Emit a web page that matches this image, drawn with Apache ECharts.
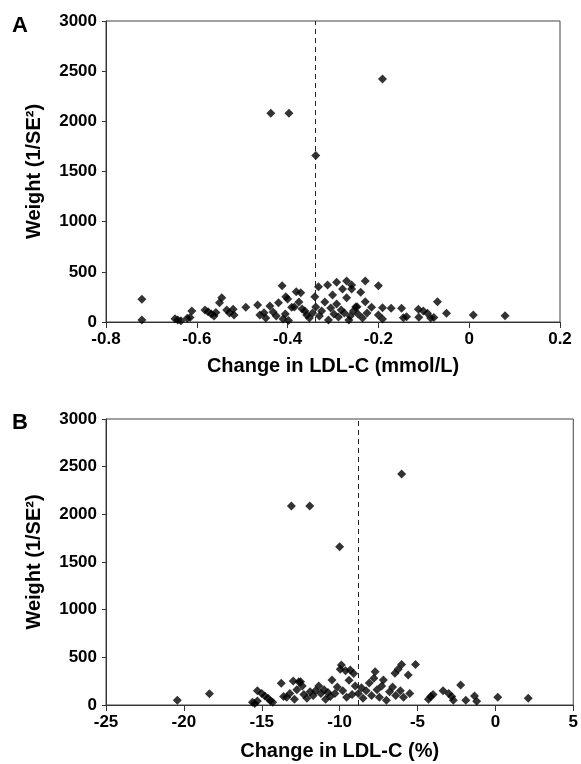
<!DOCTYPE html>
<html>
<head>
<meta charset="utf-8">
<script src="https://cdn.jsdelivr.net/npm/echarts@6/dist/echarts.min.js"></script>
<style>
  html, body { margin: 0; padding: 0; background: #fff; }
  #main { width: 581px; height: 764px; }
</style>
</head>
<body>
<div id="main"></div>
<script>
// Panel A: change in LDL-C (mmol/L) vs weight (1/SE^2)
var mmolChange = [
  -0.721, -0.721, -0.648, -0.642, -0.635, -0.621, -0.611, -0.615,
  -0.582, -0.575, -0.568, -0.562, -0.558, -0.550, -0.545, -0.534, -0.528, -0.520, -0.518,
  -0.492, -0.466, -0.461, -0.452, -0.448, -0.439, -0.432, -0.425, -0.420, -0.412, -0.404,
  -0.400, -0.410, -0.405, -0.398, -0.391, -0.381, -0.371, -0.385, -0.375, -0.368, -0.362,
  -0.358, -0.352, -0.345, -0.340, -0.338, -0.332, -0.330, -0.325, -0.318, -0.312, -0.310,
  -0.305, -0.301, -0.298, -0.292, -0.292, -0.288, -0.282, -0.279, -0.275, -0.270, -0.270,
  -0.265, -0.262, -0.259, -0.259, -0.255, -0.250, -0.247, -0.245, -0.239, -0.235, -0.229,
  -0.229, -0.225, -0.215, -0.200, -0.200, -0.191, -0.191, -0.172, -0.149, -0.145, -0.138,
  -0.112, -0.111, -0.101, -0.092, -0.085, -0.078, -0.070, -0.050, 0.009, 0.079,
  -0.437, -0.397, -0.338, -0.191
];
var mmolWeight = [
  226, 20, 33, 20, 12, 37, 110, 45,
  120, 103, 80, 60, 95, 192, 242, 120, 90, 126, 70,
  146, 169, 70, 93, 40, 159, 100, 60, 192, 362, 252,
  230, 30, 80, 15, 146, 302, 292, 150, 200, 130, 110,
  70, 40, 90, 252, 150, 352, 60, 110, 200, 369, 20,
  140, 269, 80, 396, 179, 50, 120, 329, 90, 409, 242,
  20, 60, 369, 329, 110, 150, 153, 80, 296, 40, 409,
  202, 90, 146, 362, 70, 143, 30, 136, 136, 43, 53,
  126, 47, 110, 86, 40, 45, 202, 86, 70, 63,
  2080, 2080, 1660, 2422
];
var mmolPooled = -0.336;

// Panel B: change in LDL-C (%) vs weight (1/SE^2)
var pctChange = [
  -20.42, -18.36, -15.60, -15.45, -15.28, -15.28, -15.0, -14.8, -14.6, -14.45, -14.3,
  -13.75, -13.6, -13.4, -13.2, -12.98, -12.9, -12.75, -12.62, -12.51, -12.4, -12.3,
  -12.1, -11.9, -11.7, -11.55, -11.34, -11.2, -11.0, -10.9, -10.75, -10.6, -10.49,
  -10.3, -10.15, -9.96, -9.89, -9.8, -9.62, -9.55, -9.4, -9.32, -9.2, -9.1, -9.0,
  -8.8, -8.6, -8.5, -8.3, -8.1, -7.95, -7.8, -7.72, -7.6, -7.45, -7.3, -7.19, -7.0,
  -6.8, -6.6, -6.45, -6.4, -6.24, -6.1, -6.02, -5.9, -5.6, -5.5, -5.13,
  -4.3, -4.15, -4.0, -3.36, -3.0, -2.8, -2.7, -2.23, -1.9, -1.34, -1.2, 0.15, 2.11,
  -13.1, -11.92, -10.0, -6.02
];
var pctWeight = [
  49, 119, 28, 15, 42, 150, 120, 95, 70, 45, 30,
  227, 90, 80, 120, 252, 60, 160, 245, 245, 200, 110,
  70, 140, 100, 150, 199, 120, 160, 60, 130, 90, 262,
  120, 190, 374, 420, 150, 360, 80, 260, 367, 110, 330, 200,
  120, 180, 70, 150, 230, 100, 280, 350, 160, 80, 200, 262, 50,
  140, 190, 332, 100, 374, 150, 426, 80, 315, 120, 426,
  60, 90, 110, 150, 120, 90, 50, 210, 50, 94, 40, 80, 70,
  2087, 2087, 1660, 2423
];
var pctPooled = -8.83;

var yTicks = { min: 0, max: 3000, interval: 500 };

function zip(xs, ys) {
  return xs.map(function (x, i) { return [x, ys[i]]; });
}

var font = 'Liberation Sans, Arial, sans-serif';
var axisText = { color: '#000', fontFamily: font, fontWeight: 'bold', fontSize: 17 };

function xAxisOpt(idx, min, max, interval, name, gap) {
  return {
    gridIndex: idx, type: 'value', min: min, max: max, interval: interval,
    name: name, nameLocation: 'middle', nameGap: gap,
    nameTextStyle: { color: '#000', fontFamily: font, fontWeight: 'bold', fontSize: 20 },
    axisLine: { onZero: false, lineStyle: { color: '#333', width: 1 } },
    axisTick: { show: true, length: 6, lineStyle: { color: '#333' } },
    axisLabel: Object.assign({
      margin: 9,
      formatter: function (v) { return String(Math.round(v * 10) / 10); }
    }, axisText),
    splitLine: { show: false }
  };
}

function yAxisOpt(idx) {
  return {
    gridIndex: idx, type: 'value', min: yTicks.min, max: yTicks.max, interval: yTicks.interval,
    name: 'Weight (1/SE²)', nameLocation: 'middle', nameGap: 62,
    nameTextStyle: { color: '#000', fontFamily: font, fontWeight: 'bold', fontSize: 20 },
    axisLine: { show: true, onZero: false, lineStyle: { color: '#333', width: 1 } },
    axisTick: { show: true, length: 4, lineStyle: { color: '#333' } },
    axisLabel: Object.assign({
      margin: 9,
      formatter: function (v) { return String(v); }
    }, axisText),
    splitLine: { show: false }
  };
}

function scatterSeries(idx, data, pooled) {
  return {
    type: 'scatter', xAxisIndex: idx, yAxisIndex: idx,
    symbol: 'diamond', symbolSize: 9,
    itemStyle: { color: '#000' },
    data: data,
    markLine: {
      silent: true, symbol: 'none', animation: false,
      label: { show: false },
      lineStyle: { color: '#222', width: 1, type: [5, 4] },
      data: [{ xAxis: pooled }]
    }
  };
}

var myChart = echarts.init(document.getElementById('main'));
var option = {
  animation: false,
  backgroundColor: '#fff',
  title: [
    { text: 'A', left: 12, top: 15, padding: 0, textStyle: { fontFamily: font, fontWeight: 'bold', fontSize: 22, color: '#000' } },
    { text: 'B', left: 12, top: 412, padding: 0, textStyle: { fontFamily: font, fontWeight: 'bold', fontSize: 22, color: '#000' } }
  ],
  grid: [
    { left: 106, top: 21, width: 454, height: 301, show: true, borderColor: '#444', borderWidth: 1 },
    { left: 106, top: 419, width: 470, height: 286, show: true, borderColor: '#444', borderWidth: 1 }
  ],
  xAxis: [
    xAxisOpt(0, -0.8, 0.2, 0.2, 'Change in LDL-C (mmol/L)', 34),
    xAxisOpt(1, -25, 5, 5, 'Change in LDL-C (%)', 36)
  ],
  yAxis: [yAxisOpt(0), yAxisOpt(1)],
  series: [
    scatterSeries(0, zip(mmolChange, mmolWeight), mmolPooled),
    scatterSeries(1, zip(pctChange, pctWeight), pctPooled)
  ]
};
myChart.setOption(option);
</script>
</body>
</html>
